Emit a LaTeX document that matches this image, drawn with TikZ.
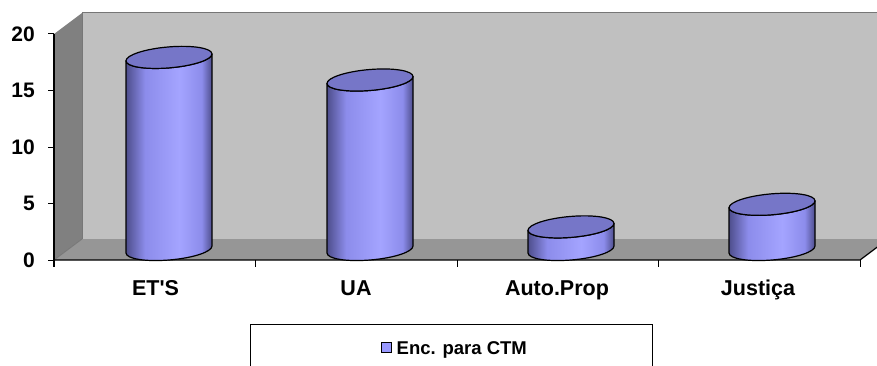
\documentclass[tikz,border=0pt]{standalone}
\usepackage{fontspec}
\setmainfont{Liberation Sans}
\usepackage{tikz}

\definecolor{wallgrey}{RGB}{192,192,192}
\definecolor{sidegrey}{RGB}{128,128,128}
\definecolor{floorgrey}{RGB}{150,150,150}
\definecolor{edgegrey}{RGB}{118,118,118}
\definecolor{cylDark}{RGB}{78,78,140}
\definecolor{cylMid}{RGB}{140,140,235}
\definecolor{cylLight}{RGB}{164,164,255}
\definecolor{cylTop}{RGB}{118,118,200}
\definecolor{legendblue}{RGB}{153,153,255}

\pgfdeclarehorizontalshading{cylshade}{100bp}{color(0bp)=(cylDark); color(25bp)=(cylDark); color(36bp)=(cylMid); color(56bp)=(cylLight); color(69bp)=(cylMid); color(75bp)=(cylDark); color(100bp)=(cylDark)}

\begin{document}
\begin{tikzpicture}[x=1pt, y=1pt,
    ticklabel/.style={anchor=east, inner sep=0, font=\fontsize{21}{25}\selectfont\bfseries},
    catlabel/.style={anchor=base, inner sep=0, font=\fontsize{21.5}{25}\selectfont\bfseries},
    cylbody/.style={shading=cylshade, draw=black, line width=1.2pt, line join=round},
    cyltop/.style={fill=cylTop, draw=black, line width=1.2pt}]
  \useasboundingbox (0,0) rectangle (877,365);
  \clip (0,0) rectangle (877,365);

  % walls and floor
  \draw[fill=wallgrey, draw=edgegrey, line width=1pt] (82,126) rectangle (890,352);
  \fill[sidegrey] (54,105) -- (82,126) -- (82,352) -- (54,331) -- cycle;
  \fill[floorgrey] (54,105) -- (860,105) -- (888,126) -- (82,126) -- cycle;
  \draw[edgegrey, line width=0.8pt] (54,105) -- (82,126);

  % axes
  \draw[line width=1.2pt] (54,331) -- (54,98);
  \draw[line width=1.2pt] (54,105) -- (860,105) -- (888,126);
  \draw[line width=1pt] (48,105) -- (54,105) (48,161.5) -- (54,161.5) (48,218) -- (54,218)
    (48,274.5) -- (54,274.5) (48,331) -- (54,331);
  \draw[line width=1pt] (255.5,105) -- (255.5,98) (457,105) -- (457,98) (658.5,105) -- (658.5,98)
    (860,105) -- (860,98);

  \node[ticklabel] (v0) at (35,105) {0};
  \node[ticklabel] (v5) at (35,161.5) {5};
  \node[ticklabel] (v10) at (35,218) {10};
  \node[ticklabel] (v15) at (35,274.5) {15};
  \node[ticklabel] (v20) at (35,331) {20};

  % ET'S, 17
  \begin{scope}[shift={(169,115.5)}, cm={1,0.08,0,1,(0,0)}]
    \draw[cylbody] (-43,192.1) -- (-43,0) arc[start angle=180, end angle=360, x radius=43, y radius=10.5]
      -- (43,192.1) arc[start angle=0, end angle=-180, x radius=43, y radius=10.5] -- cycle;
    \draw[cyltop] (0,192.1) ellipse [x radius=43, y radius=10.5];
  \end{scope}

  % UA, 15
  \begin{scope}[shift={(370,115.5)}, cm={1,0.08,0,1,(0,0)}]
    \draw[cylbody] (-43,169.5) -- (-43,0) arc[start angle=180, end angle=360, x radius=43, y radius=10.5]
      -- (43,169.5) arc[start angle=0, end angle=-180, x radius=43, y radius=10.5] -- cycle;
    \draw[cyltop] (0,169.5) ellipse [x radius=43, y radius=10.5];
  \end{scope}

  % Auto.Prop, 2
  \begin{scope}[shift={(571,115.5)}, cm={1,0.08,0,1,(0,0)}]
    \draw[cylbody] (-43,22.6) -- (-43,0) arc[start angle=180, end angle=360, x radius=43, y radius=10.5]
      -- (43,22.6) arc[start angle=0, end angle=-180, x radius=43, y radius=10.5] -- cycle;
    \draw[cyltop] (0,22.6) ellipse [x radius=43, y radius=10.5];
  \end{scope}

  % Justica, 4
  \begin{scope}[shift={(772,115.5)}, cm={1,0.08,0,1,(0,0)}]
    \draw[cylbody] (-43,45.2) -- (-43,0) arc[start angle=180, end angle=360, x radius=43, y radius=10.5]
      -- (43,45.2) arc[start angle=0, end angle=-180, x radius=43, y radius=10.5] -- cycle;
    \draw[cyltop] (0,45.2) ellipse [x radius=43, y radius=10.5];
  \end{scope}

  \node[catlabel] (ets) at (155.5,70) {ET\textquotesingle S};
  \node[catlabel] (ua) at (356,70) {UA};
  \node[catlabel] (auto) at (557,70) {Auto.Prop};
  \node[catlabel] (just) at (758,70) {Justiça};

  % legend
  \draw[line width=0.8pt] (250,-5) rectangle (652,41);
  \node[draw=black, line width=0.8pt, fill=legendblue, minimum size=10, inner sep=0] (key) at (386,17.5) {};
  \node[anchor=base west, inner sep=0, font=\fontsize{18.5}{21}\selectfont\bfseries] (legend) at (396.5,11) {Enc. para CTM};
\end{tikzpicture}
\end{document}
